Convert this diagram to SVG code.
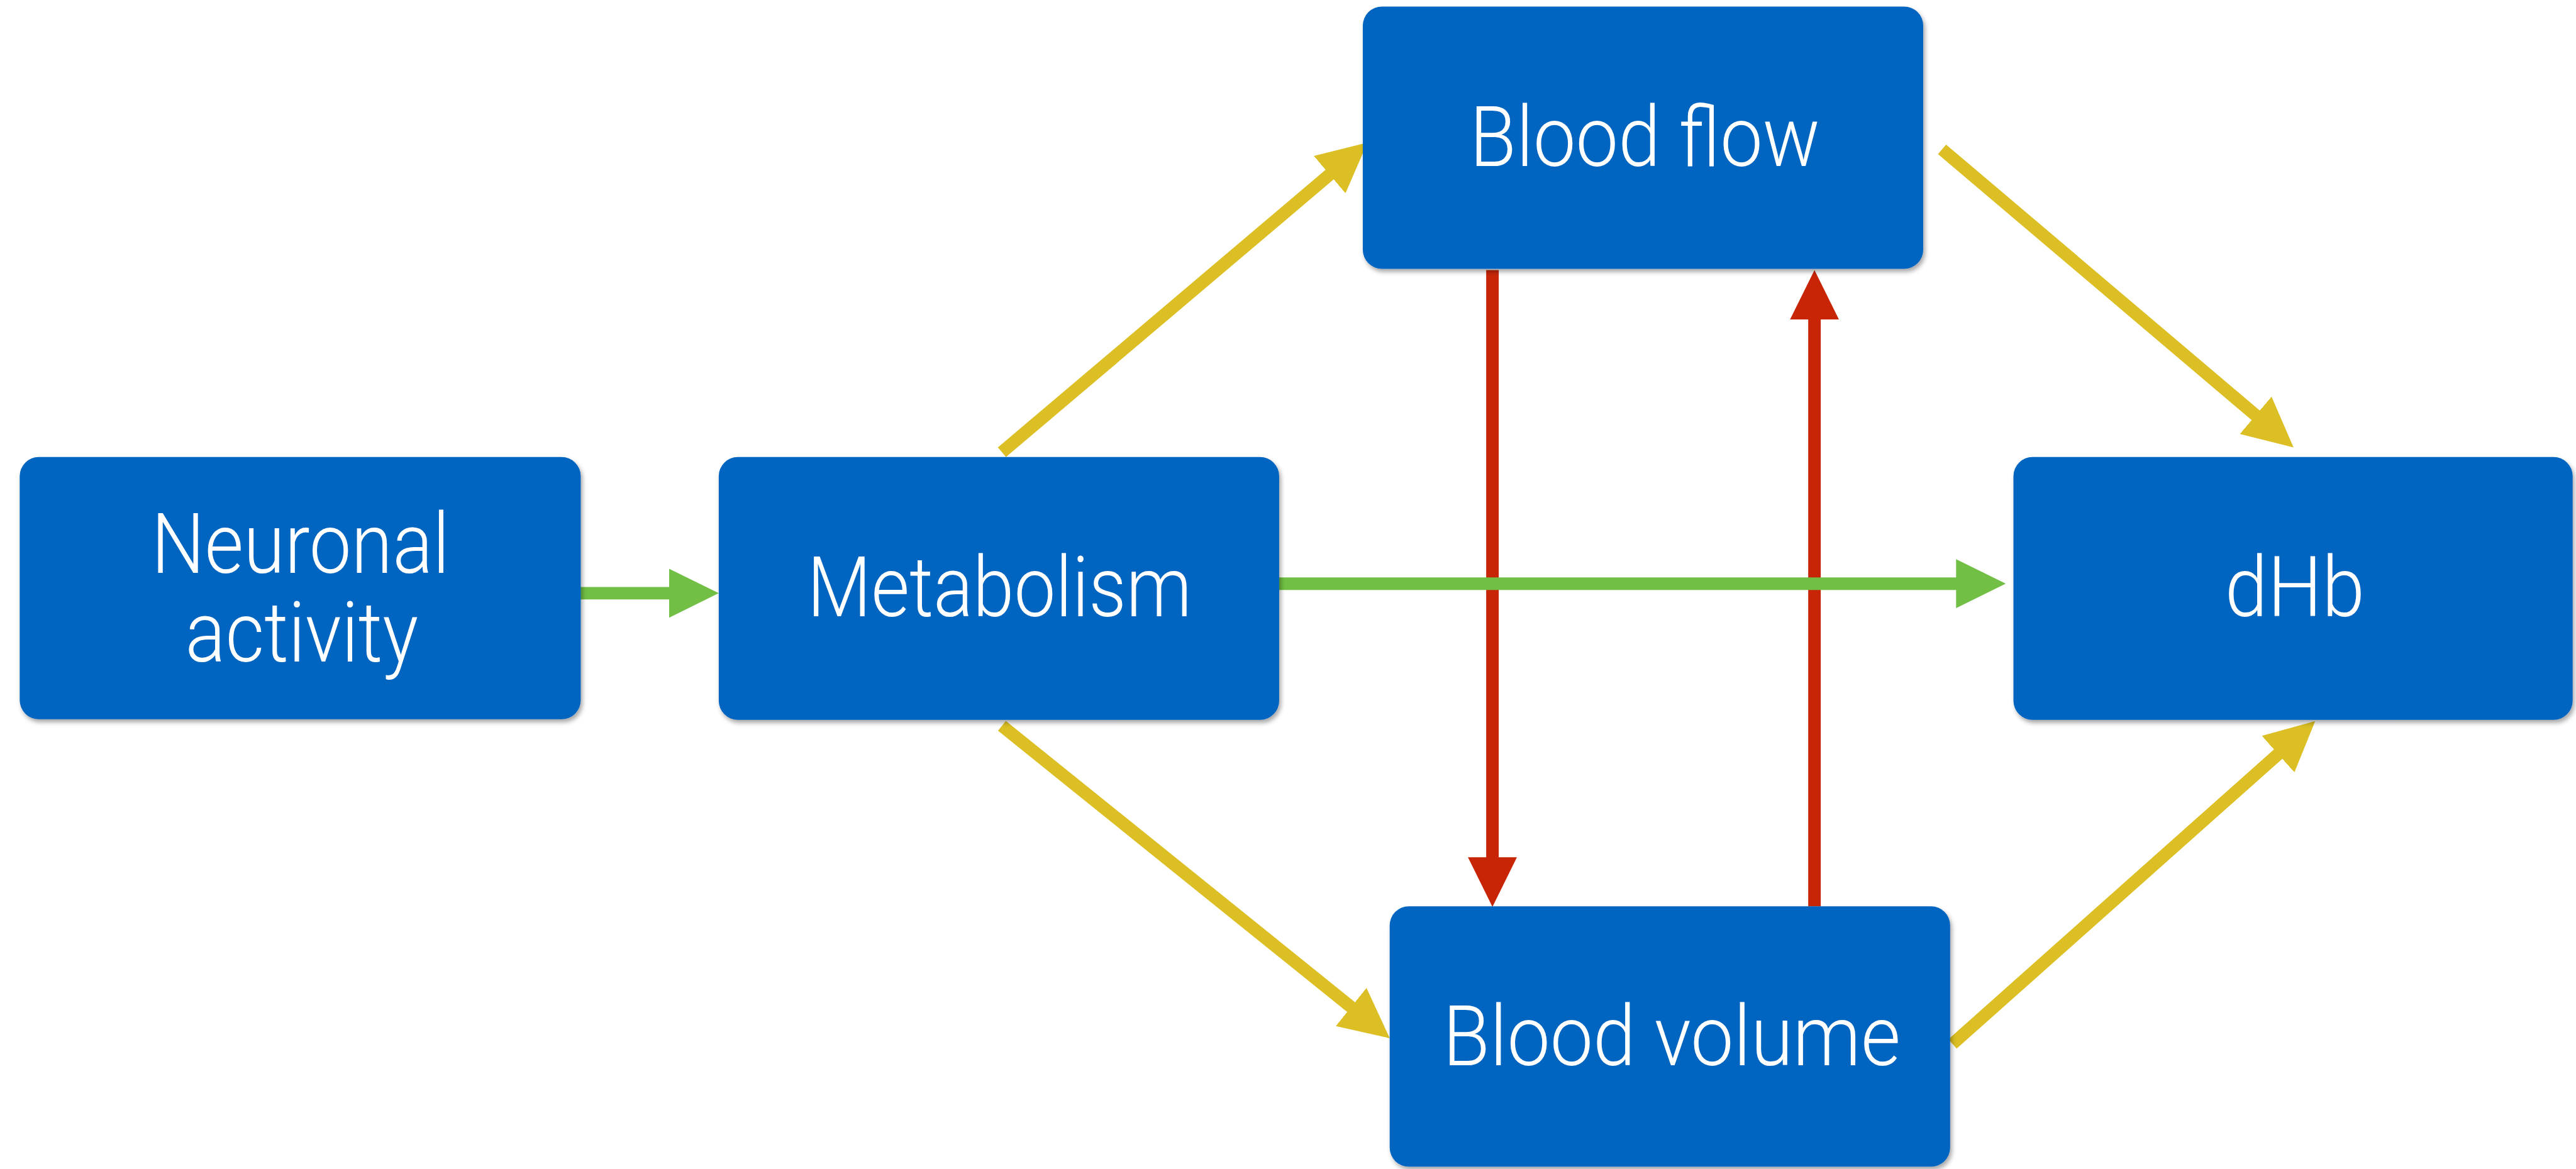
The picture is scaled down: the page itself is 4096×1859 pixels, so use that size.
<svg xmlns="http://www.w3.org/2000/svg" width="4096" height="1859" viewBox="0 0 4096 1859">
<style>
.box{fill:#0565C0;filter:url(#sh)}
.lbl{fill:#ffffff;font-family:Roboto,"Liberation Sans",sans-serif;font-weight:300;font-size:140px;text-anchor:middle}
.c{fill:none;stroke-width:21;stroke-linecap:butt}
.g{stroke:#71BF44}
.y{stroke:#DBBF24}
.r{stroke:#C82506}
</style>
<defs>
<filter id="sh" x="-5%" y="-5%" width="110%" height="115%">
<feDropShadow dx="3" dy="5" stdDeviation="4" flood-color="#000" flood-opacity="0.35"/>
</filter>
<marker id="ag" viewBox="0 0 83 82" refX="2" refY="41" markerWidth="83" markerHeight="82" markerUnits="userSpaceOnUse" orient="auto"><path d="M0,0 L83,41 L0,82 Z" fill="#71BF44"/></marker>
<marker id="ay" viewBox="0 0 83 82" refX="2" refY="41" markerWidth="83" markerHeight="82" markerUnits="userSpaceOnUse" orient="auto"><path d="M0,0 L83,41 L0,82 Z" fill="#DBBF24"/></marker>
<marker id="ar" viewBox="0 0 83 82" refX="2" refY="41" markerWidth="83" markerHeight="82" markerUnits="userSpaceOnUse" orient="auto"><path d="M0,0 L83,41 L0,82 Z" fill="#C82506"/></marker>
</defs>
<rect width="4096" height="1859" fill="#ffffff"/>
<g transform="scale(0.95)">
<g id="connectors">
<path class="c r" d="M2498,452 V1437" marker-end="url(#ar)"/>
<path class="c r" d="M3037,1517 V533" marker-end="url(#ar)"/>
<path class="c g" d="M971,993 H1122" marker-end="url(#ag)"/>
<path class="c g" d="M2141,977 H3276" marker-end="url(#ag)"/>
<path class="c y" d="M1677,757 L2227,291" marker-end="url(#ay)"/>
<path class="c y" d="M1677,1215 L2263,1687" marker-end="url(#ay)"/>
<path class="c y" d="M3250.5,250 L3777,696.5" marker-end="url(#ay)"/>
<path class="c y" d="M3268,1747.5 L3814.5,1261" marker-end="url(#ay)"/>
</g>
<g id="node-neuronal">
<rect class="box" x="33" y="765" width="939" height="439" rx="32" ry="32"/>
<text class="lbl" x="503" y="959" textLength="499" lengthAdjust="spacingAndGlyphs">Neuronal</text>
<text class="lbl" x="505" y="1107" textLength="390" lengthAdjust="spacingAndGlyphs">activity</text>
</g>
<g id="node-metabolism">
<rect class="box" x="1203" y="765" width="938" height="440" rx="32" ry="32"/>
<text class="lbl" x="1673" y="1032" textLength="644" lengthAdjust="spacingAndGlyphs">Metabolism</text>
</g>
<g id="node-bloodflow">
<rect class="box" x="2281" y="11" width="938" height="439" rx="32" ry="32"/>
<text class="lbl" x="2753" y="278" textLength="586" lengthAdjust="spacingAndGlyphs">Blood flow</text>
</g>
<g id="node-bloodvolume">
<rect class="box" x="2326" y="1517" width="938" height="436" rx="32" ry="32"/>
<text class="lbl" x="2798" y="1783" textLength="766" lengthAdjust="spacingAndGlyphs">Blood volume</text>
</g>
<g id="node-dhb">
<rect class="box" x="3370" y="765" width="936" height="440" rx="32" ry="32"/>
<text class="lbl" x="3841" y="1032" textLength="234" lengthAdjust="spacingAndGlyphs">dHb</text>
</g>
</g>
</svg>
